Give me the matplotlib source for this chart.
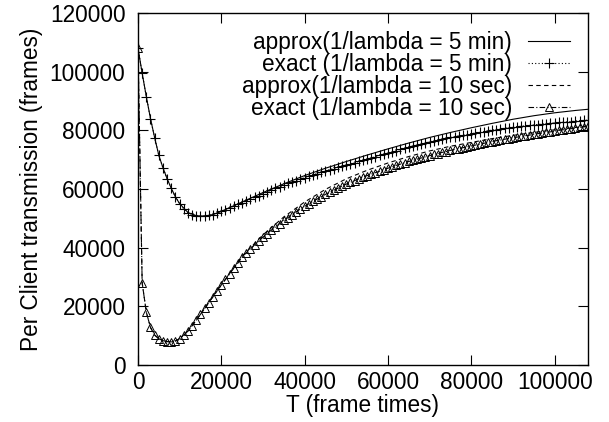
import numpy as np
import matplotlib
matplotlib.use("Agg")
import matplotlib.pyplot as plt

plt.rcParams['font.family'] = ['Liberation Sans', 'DejaVu Sans']

# ---- data ----
T_exact = list(range(0, 108001, 1000))

exact_5min = [
    108000, 99500, 91500, 84000, 77500, 71500, 67200, 63500, 60200, 57300,
    55000, 53200, 52000, 51300, 50900, 50800, 50800, 51000, 51300, 51800,
    52400, 53000, 53600, 54200, 54800, 55400, 56000, 56600, 57200, 57800,
    58400, 59000, 59600, 60200, 60800, 61300, 61900, 62400, 62900, 63400,
    63900, 64400, 64900, 65300, 65800, 66200, 66600, 67000, 67400, 67800,
    68200, 68600, 69000, 69400, 69800, 70200, 70600, 71000, 71500, 71900,
    72300, 72700, 73100, 73500, 73900, 74300, 74700, 75000, 75400, 75700,
    76100, 76400, 76700, 77000, 77300, 77600, 77900, 78100, 78400, 78600,
    78900, 79100, 79400, 79600, 79900, 80100, 80300, 80500, 80700, 80900,
    81100, 81300, 81400, 81600, 81700, 81900, 82000, 82200, 82300, 82500,
    82600, 82700, 82800, 82900, 83000, 83200, 83300, 83400, 83500,
]

exact_10sec = [
    108000, 28000, 18000, 12800, 10200, 9000, 8300, 8000, 7900, 8200,
    9000, 10200, 11600, 13400, 15300, 17300, 19300, 21300, 23300, 25300,
    27300, 29200, 31100, 33000, 34800, 36800, 38300, 39700, 41000, 42300,
    43600, 44800, 46000, 47100, 48200, 49300, 50300, 51300, 52300, 53200,
    54100, 55000, 55800, 56600, 57400, 58200, 58900, 59600, 60300, 61000,
    61700, 62300, 62900, 63500, 64100, 64600, 65100, 65600, 66100, 66600,
    67100, 67600, 68100, 68500, 69000, 69400, 69800, 70200, 70600, 71000,
    71400, 71800, 72100, 72500, 72800, 73200, 73500, 73800, 74100, 74400,
    74700, 75000, 75300, 75600, 75900, 76200, 76500, 76700, 77000, 77200,
    77500, 77700, 78000, 78200, 78400, 78700, 78900, 79100, 79300, 79500,
    79800, 80000, 80200, 80400, 80600, 80800, 81000, 81200, 81400,
]

T_approx = [0, 1000, 2000, 3000, 4000, 5000, 6000, 7000, 8000, 9000, 10000,
            12000, 14000, 16000, 18000, 20000, 25000, 30000, 35000, 40000,
            45000, 50000, 55000, 60000, 65000, 70000, 75000, 80000, 85000,
            90000, 95000, 100000, 105000, 108000]

approx_5min = [108000, 99500, 91500, 84000, 77500, 71500, 67200, 63500, 60200,
               57300, 55000, 52000, 50900, 50800, 51300, 52400, 55600, 58800,
               61800, 64600, 67100, 69400, 71600, 73700, 75700, 77600, 79300,
               80900, 82400, 83800, 85000, 86000, 86800, 87200]

approx_10sec = [108000, 28000, 18000, 12800, 10200, 9000, 8300, 8000, 7900,
                8200, 9000, 11600, 15300, 19300, 23300, 27300, 37100, 44400,
                50500, 55600, 59900, 63500, 66400, 68900, 71100, 73000, 74600,
                75900, 77200, 78300, 79300, 80200, 81000, 81500]

labels = ["approx(1/lambda = 5 min)", "exact (1/lambda = 5 min)",
          "approx(1/lambda = 10 sec)", "exact (1/lambda = 10 sec)"]

xticks = [0, 20000, 40000, 60000, 80000, 100000]
yticks = [0, 20000, 40000, 60000, 80000, 100000, 120000]

# ---- figure ----
fig = plt.figure(figsize=(6.09, 4.22), dpi=100)
ax = fig.add_axes([0.2266, 0.135, 0.7389, 0.834])

fs = 16.3
ax.plot(T_approx, approx_5min, color='black', lw=0.8, ls='-', label=labels[0])
ax.plot(T_exact, exact_5min, color='black', lw=0.8, ls=(0, (1, 2)),
        marker='+', ms=6.5, mew=0.8, label=labels[1])
ax.plot(T_approx, approx_10sec, color='black', lw=0.8, ls=(0, (4, 3)),
        label=labels[2])
ax.plot(T_exact, exact_10sec, color='black', lw=0.8, ls=(0, (5, 2, 1, 2)),
        marker='^', ms=5.5, mfc='none', mew=0.7, label=labels[3])

ax.set_xlim(0, 108000)
ax.set_ylim(0, 120000)
ax.set_xticks(xticks)
ax.set_yticks(yticks)
ax.set_xticklabels([str(v) for v in xticks], fontsize=fs)
ax.set_yticklabels([str(v) for v in yticks], fontsize=fs)
ax.tick_params(direction='in', length=7, width=0.8, top=True, right=True)
ax.tick_params(axis='y', pad=9)
ax.tick_params(axis='x', pad=4)
for s in ax.spines.values():
    s.set_linewidth(1.0)

ax.set_xlabel("T (frame times)", fontsize=fs, labelpad=0)
ax.set_ylabel("Per Client transmission (frames)", fontsize=fs, labelpad=5)

leg = ax.legend(loc='upper right', markerfirst=False, frameon=False,
                fontsize=fs, handlelength=1.85, handletextpad=0.7,
                labelspacing=-0.05, borderaxespad=0.0,
                bbox_to_anchor=(0.98, 0.975))

fig.savefig("out.png", dpi=100)
